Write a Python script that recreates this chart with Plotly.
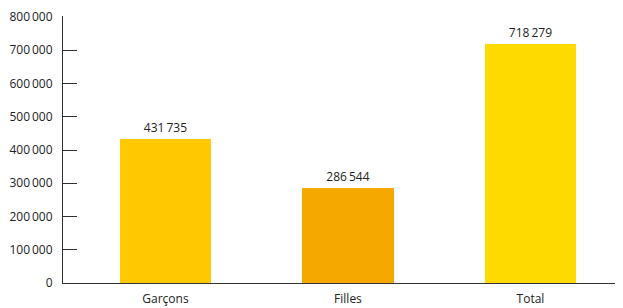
import plotly.graph_objects as go

categories = ["Garçons", "Filles", "Total"]
values = [431735, 286544, 718279]
colors = ["#FFC800", "#F5A800", "#FFDA00"]
tick_vals = [0, 100000, 200000, 300000, 400000, 500000, 600000, 700000, 800000]

def fmt(v):
    return f"{v:,}".replace(",", "\u2009")

fig = go.Figure(go.Bar(
    x=list(range(len(categories))),
    y=values,
    marker=dict(color=colors, line=dict(width=0)),
    width=0.5,
    text=[fmt(v) for v in values],
    textposition="outside",
    textfont=dict(size=12, color="#222222", family="Open Sans"),
    cliponaxis=False,
))

# page body has an 8px default margin, so the figure is offset by 8px
fig.update_layout(
    width=615, height=301,
    margin=dict(l=55, r=0, t=8, b=26),
    plot_bgcolor="white", paper_bgcolor="white",
    showlegend=False,
    font=dict(family="Open Sans", size=12, color="#222222"),
    bargap=0,
)
fig.update_xaxes(
    range=[-0.5616, 2.507],
    tickvals=list(range(len(categories))),
    ticktext=categories,
    showline=True, linecolor="#333333", linewidth=1,
    showgrid=False, zeroline=False, ticks="",
    tickfont=dict(size=12, color="#222222"),
    ticklabelstandoff=5,
    automargin=False,
)
fig.update_yaxes(
    range=[0, 803000],
    tickvals=tick_vals,
    ticktext=[fmt(v) for v in tick_vals],
    showline=True, linecolor="#333333", linewidth=1,
    showgrid=False, zeroline=False,
    ticks="inside", ticklen=14, tickcolor="#333333", tickwidth=1,
    tickfont=dict(size=12, color="#222222"),
    ticklabelstandoff=7,
    automargin=False,
)

fig.write_html("out.html")
